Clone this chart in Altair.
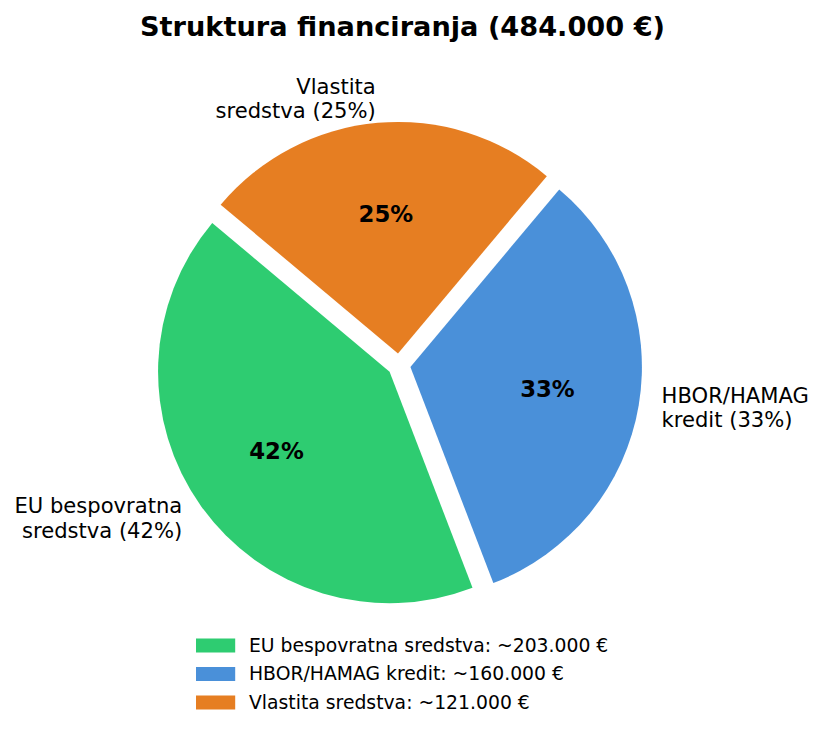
import math
import altair as alt
import pandas as pd

# ---------------- data ----------------
chart_title = "Struktura financiranja (484.000 €)"
categories = ["EU bespovratna sredstva", "HBOR/HAMAG kredit", "Vlastita sredstva"]
amounts = [203000, 160000, 121000]
pie_labels = ["EU bespovratna\nsredstva (42%)", "HBOR/HAMAG\nkredit (33%)", "Vlastita\nsredstva (25%)"]
pct_labels = ["42%", "33%", "25%"]
colors = ["#2ecc71", "#4a90d9", "#e67e22"]
legend_labels = [f"{c}: ~{a:,}".replace(",", ".") + " €" for c, a in zip(categories, amounts)]

df = pd.DataFrame({
    "category": categories,
    "amount": amounts,
    "legend": legend_labels,
    "label": pie_labels,
    "pct": pct_labels,
    "order": list(range(len(categories))),
})
total = sum(amounts)

# ---------------- layout / style ----------------
PAGE_W, PAGE_H = 824, 735
MARGIN = 8
PAD_TOP = 52
VIEW_W = PAGE_W - 2 * MARGIN
VIEW_H = PAGE_H - 2 * MARGIN - PAD_TOP
CX, CY = 399, 365          # pie centre on the page
R = 231.5                  # pie radius (px)
START_DEG = 140            # matplotlib-style start angle, counter-clockwise
EXPLODE = 0.05
PCT_DIST = 0.6
LABEL_DIST = 1.1
LABEL_FS = 21.1
LINE_H = 24.5

cx_v = CX - MARGIN
cy_v = CY - MARGIN - PAD_TOP
x_domain = [-cx_v / R, (VIEW_W - cx_v) / R]
y_domain = [-(VIEW_H - cy_v) / R, cy_v / R]

a0 = math.radians(90 - START_DEG)
a1 = a0 - 2 * math.pi

FONT = "DejaVu Sans"

xs = alt.Scale(domain=x_domain, nice=False, zero=False)
ys = alt.Scale(domain=y_domain, nice=False, zero=False)

base = (
    alt.Chart(df)
    .transform_window(end="sum(amount)", sort=[alt.SortField("order")], frame=[None, 0])
    .transform_calculate(start="datum.end - datum.amount")
    .transform_calculate(ang=f"{a0} + ({a1 - a0}) * (datum.start + datum.end) / 2 / {total}")
    .transform_calculate(
        ex=f"{EXPLODE} * sin(datum.ang)",
        ey=f"{EXPLODE} * cos(datum.ang)",
        px=f"{EXPLODE + PCT_DIST} * sin(datum.ang)",
        py=f"{EXPLODE + PCT_DIST} * cos(datum.ang)",
        lx=f"{EXPLODE + LABEL_DIST} * sin(datum.ang)",
        ly=f"{EXPLODE + LABEL_DIST} * cos(datum.ang)",
    )
)

legend = alt.Legend(
    title=None,
    orient="none",
    legendX=193.6,
    legendY=571.5,
    padding=0,
    symbolType="M-1.4,-0.5L1.4,-0.5L1.4,0.5L-1.4,0.5Z",
    symbolSize=784,
    symbolStrokeWidth=0,
    symbolOpacity=1,
    labelFont=FONT,
    labelFontSize=18.8,
    labelColor="black",
    labelOffset=19.4,
    rowPadding=4.5,
    labelLimit=600,
)

arcs = base.mark_arc(radius=R, strokeWidth=0).encode(
    x=alt.X("ex:Q", scale=xs, axis=None),
    y=alt.Y("ey:Q", scale=ys, axis=None),
    theta=alt.Theta("start:Q", scale=alt.Scale(domain=[0, total], range=[a0, a1]), stack=None),
    theta2="end:Q",
    color=alt.Color("legend:N", scale=alt.Scale(domain=legend_labels, range=colors), legend=legend),
    tooltip=["category:N", "amount:Q"],
)

pct = base.mark_text(font=FONT, fontSize=22.8, fontWeight="bold", color="black",
                     baseline="middle", align="center").encode(
    x=alt.X("px:Q", scale=xs),
    y=alt.Y("py:Q", scale=ys),
    text="pct:N",
)

lab_right = base.transform_filter("datum.lx < 0").mark_text(
    font=FONT, fontSize=LABEL_FS, color="black", align="right", baseline="middle",
    lineBreak="\n", lineHeight=LINE_H, dy=-LINE_H / 2,
).encode(x=alt.X("lx:Q", scale=xs), y=alt.Y("ly:Q", scale=ys), text="label:N")

lab_left = base.transform_filter("datum.lx >= 0").mark_text(
    font=FONT, fontSize=LABEL_FS, color="black", align="left", baseline="middle",
    lineBreak="\n", lineHeight=LINE_H, dy=-LINE_H / 2,
).encode(x=alt.X("lx:Q", scale=xs), y=alt.Y("ly:Q", scale=ys), text="label:N")

chart = (
    alt.layer(arcs, pct, lab_right, lab_left)
    .properties(
        width=VIEW_W,
        height=VIEW_H,
        autosize=alt.AutoSizeParams(type="none"),
        padding={"left": 0, "top": PAD_TOP, "right": 0, "bottom": 0},
        title=alt.TitleParams(
            text=chart_title, font=FONT, fontSize=27.2, fontWeight="bold",
            color="black", anchor="middle", dx=-9.5, offset=18,
        ),
    )
    .configure_view(stroke=None)
)

chart.save("out.html", embed_options={"renderer": "svg", "actions": False})
